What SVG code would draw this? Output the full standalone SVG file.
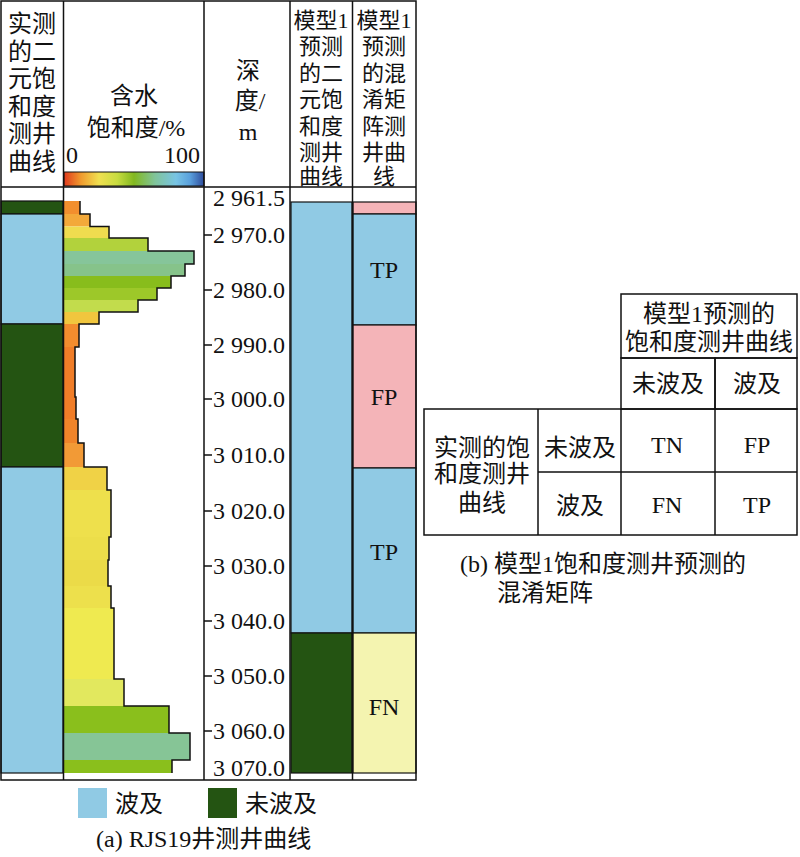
<svg xmlns="http://www.w3.org/2000/svg" width="800" height="857" viewBox="0 0 800 857">
<style>
text{font-family:"Liberation Serif","Noto Sans CJK SC",serif;fill:#111;}
.t24{font-size:24px;}
.t22{font-size:22px;}
.c{text-anchor:middle;}
.e{text-anchor:end;}
.ln{stroke:#111;stroke-width:1.5;fill:none;}
.blue{fill:#90cae4;stroke:#111;stroke-width:1.2;}
.green{fill:#245412;stroke:#111;stroke-width:1.2;}
.pink{fill:#f4b4b8;stroke:#111;stroke-width:1.2;}
.yel{fill:#f4f4b0;stroke:#111;stroke-width:1.2;}
.cell{fill:none;stroke:#111;stroke-width:1.5;}
</style>
<defs>
<linearGradient id="cbar" x1="0" y1="0" x2="1" y2="0">
<stop offset="0" stop-color="#e03a1e"/>
<stop offset="0.12" stop-color="#f09a2e"/>
<stop offset="0.25" stop-color="#f0e050"/>
<stop offset="0.38" stop-color="#c8dc40"/>
<stop offset="0.5" stop-color="#82b820"/>
<stop offset="0.65" stop-color="#80c49a"/>
<stop offset="0.8" stop-color="#78c4e4"/>
<stop offset="0.9" stop-color="#5aa0dc"/>
<stop offset="1" stop-color="#2e4c9c"/>
</linearGradient>
</defs>
<rect width="800" height="857" fill="#fff"/>

<g id="panel-a">
<g id="col-observed">
<rect class="green" x="1" y="201" width="62" height="13"/>
<rect class="blue" x="1" y="214" width="62" height="110"/>
<rect class="green" x="1" y="324" width="62" height="143"/>
<rect class="blue" x="1" y="467" width="62" height="306"/>
<g class="t24 c">
<text x="32" y="32">实测</text>
<text x="32" y="60">的二</text>
<text x="32" y="87">元饱</text>
<text x="32" y="115">和度</text>
<text x="32" y="142">测井</text>
<text x="32" y="170">曲线</text>
</g>
</g>

<g id="col-saturation">
<rect x="64" y="201" width="16" height="13" fill="#f28f2e"/>
<rect x="64" y="214" width="26" height="12.5" fill="#f3a93a"/>
<rect x="64" y="226.5" width="45" height="11.5" fill="#efdc4f"/>
<rect x="64" y="238" width="84" height="13" fill="#b2d23c"/>
<rect x="64" y="251" width="130" height="13" fill="#86c59a"/>
<rect x="64" y="264" width="121" height="12" fill="#86c38a"/>
<rect x="64" y="276" width="107" height="12" fill="#88bd1c"/>
<rect x="64" y="288" width="93" height="12" fill="#9dc829"/>
<rect x="64" y="300" width="74" height="12" fill="#c2dc4c"/>
<rect x="64" y="312" width="35" height="12" fill="#f1c63e"/>
<rect x="64" y="324" width="15" height="23" fill="#f28c2e"/>
<rect x="64" y="347" width="11" height="50" fill="#f07d28"/>
<rect x="64" y="397" width="12" height="22" fill="#f07d28"/>
<rect x="64" y="419" width="14" height="24" fill="#f0842a"/>
<rect x="64" y="443" width="20" height="24" fill="#f29a36"/>
<rect x="64" y="467" width="43" height="23" fill="#f0d246"/>
<rect x="64" y="490" width="47" height="47" fill="#eee04c"/>
<rect x="64" y="537" width="45" height="23" fill="#ecde4a"/>
<rect x="64" y="560" width="44" height="26" fill="#ebdb48"/>
<rect x="64" y="586" width="47" height="22" fill="#ede04c"/>
<rect x="64" y="608" width="50" height="71" fill="#efea50"/>
<rect x="64" y="679" width="60" height="27" fill="#e2e85e"/>
<rect x="64" y="706" width="105" height="27" fill="#8abf1c"/>
<rect x="64" y="733" width="126" height="27" fill="#86c596"/>
<rect x="64" y="760" width="108" height="13" fill="#8abf1c"/>
<path class="ln" d="M80,201 V214 H90 V226.5 H109 V238 H148 V251 H194 V264 H185 V276 H171 V288 H157 V300 H138 V312 H99 V324 H79 V347 H75 V397 H76 V419 H78 V443 H84 V467 H107 V490 H111 V537 H109 V560 H108 V586 H111 V608 H114 V679 H124 V706 H169 V733 H190 V760 H172 V773"/>
<rect x="64" y="172" width="140" height="14" fill="url(#cbar)" stroke="#111" stroke-width="1"/>
<text class="t24 c" x="134" y="104">含水</text>
<text class="t24 c" x="136" y="136">饱和度/%</text>
<text class="t24" x="66" y="163">0</text>
<text class="t24 e" x="200" y="163">100</text>
</g>

<g id="col-depth">
<text class="t24 c" x="248" y="79">深</text>
<text class="t24 c" x="250" y="109">度/</text>
<text class="t24 c" x="248" y="140">m</text>
<g class="ln">
<path d="M204,235 H212 M204,290 H212 M204,345 H212 M204,399 H212 M204,455 H212 M204,511 H212 M204,566 H212 M204,621 H212 M204,676 H212 M204,731 H212"/>
</g>
<g class="t24 e">
<text x="285" y="206">2 961.5</text>
<text x="285" y="243">2 970.0</text>
<text x="285" y="298">2 980.0</text>
<text x="285" y="353">2 990.0</text>
<text x="285" y="407">3 000.0</text>
<text x="285" y="463">3 010.0</text>
<text x="285" y="519">3 020.0</text>
<text x="285" y="574">3 030.0</text>
<text x="285" y="629">3 040.0</text>
<text x="285" y="684">3 050.0</text>
<text x="285" y="739">3 060.0</text>
<text x="285" y="776">3 070.0</text>
</g>
</g>

<g id="col-model">
<rect class="blue" x="291" y="202" width="61" height="431"/>
<rect class="green" x="291" y="633" width="61" height="140"/>
<g class="t22 c">
<text x="321" y="28">模型1</text>
<text x="321" y="54">预测</text>
<text x="321" y="81">的二</text>
<text x="321" y="107">元饱</text>
<text x="321" y="134">和度</text>
<text x="321" y="160">测井</text>
<text x="321" y="184">曲线</text>
</g>
</g>

<g id="col-confusion">
<rect class="pink" x="353" y="202" width="63" height="12"/>
<rect class="blue" x="353" y="214" width="63" height="111"/>
<rect class="pink" x="353" y="325" width="63" height="143"/>
<rect class="blue" x="353" y="468" width="63" height="165"/>
<rect class="yel" x="353" y="633" width="63" height="140"/>
<g class="t22 c">
<text x="384" y="28">模型1</text>
<text x="384" y="54">预测</text>
<text x="384" y="81">的混</text>
<text x="384" y="107">淆矩</text>
<text x="384" y="134">阵测</text>
<text x="384" y="160">井曲</text>
<text x="384" y="184">线</text>
</g>
<g class="t24 c">
<text x="384" y="278">TP</text>
<text x="384" y="405">FP</text>
<text x="384" y="560">TP</text>
<text x="384" y="715">FN</text>
</g>
</g>

<g id="frame" class="ln">
<rect x="1" y="1" width="415" height="779"/>
<path d="M1,187 H416 M63.5,1 V780 M204,1 V780 M290,1 V780 M352.5,1 V780"/>
</g>

<g id="legend">
<rect x="78" y="788" width="29" height="30" fill="#90cae4"/>
<text class="t24" x="115" y="812">波及</text>
<rect x="208" y="788" width="29" height="30" fill="#245412"/>
<text class="t24" x="245" y="812">未波及</text>
<text class="t24" x="96" y="847">(a) RJS19井测井曲线</text>
</g>
</g>

<g id="panel-b">
<g id="matrix-lines">
<rect class="cell" x="621" y="294" width="176" height="64"/>
<rect class="cell" x="621" y="358" width="94" height="51"/>
<rect class="cell" x="715" y="358" width="82" height="51"/>
<rect class="cell" x="424" y="409" width="373" height="126"/>
<path class="cell" d="M538,409 V535 M621,409 V535 M715,409 V535 M538,472 H797"/>
</g>
<g class="t24 c">
<text x="709" y="322">模型1预测的</text>
<text x="709" y="350">饱和度测井曲线</text>
<text x="668" y="392">未波及</text>
<text x="757" y="392">波及</text>
<text x="482" y="456">实测的饱</text>
<text x="482" y="482">和度测井</text>
<text x="482" y="511">曲线</text>
<text x="580" y="456">未波及</text>
<text x="580" y="514">波及</text>
<text x="667" y="453">TN</text>
<text x="757" y="453">FP</text>
<text x="667" y="513">FN</text>
<text x="757" y="513">TP</text>
</g>
<text class="t24" x="460" y="572">(b) 模型1饱和度测井预测的</text>
<text class="t24" x="497" y="601">混淆矩阵</text>
</g>
</svg>
